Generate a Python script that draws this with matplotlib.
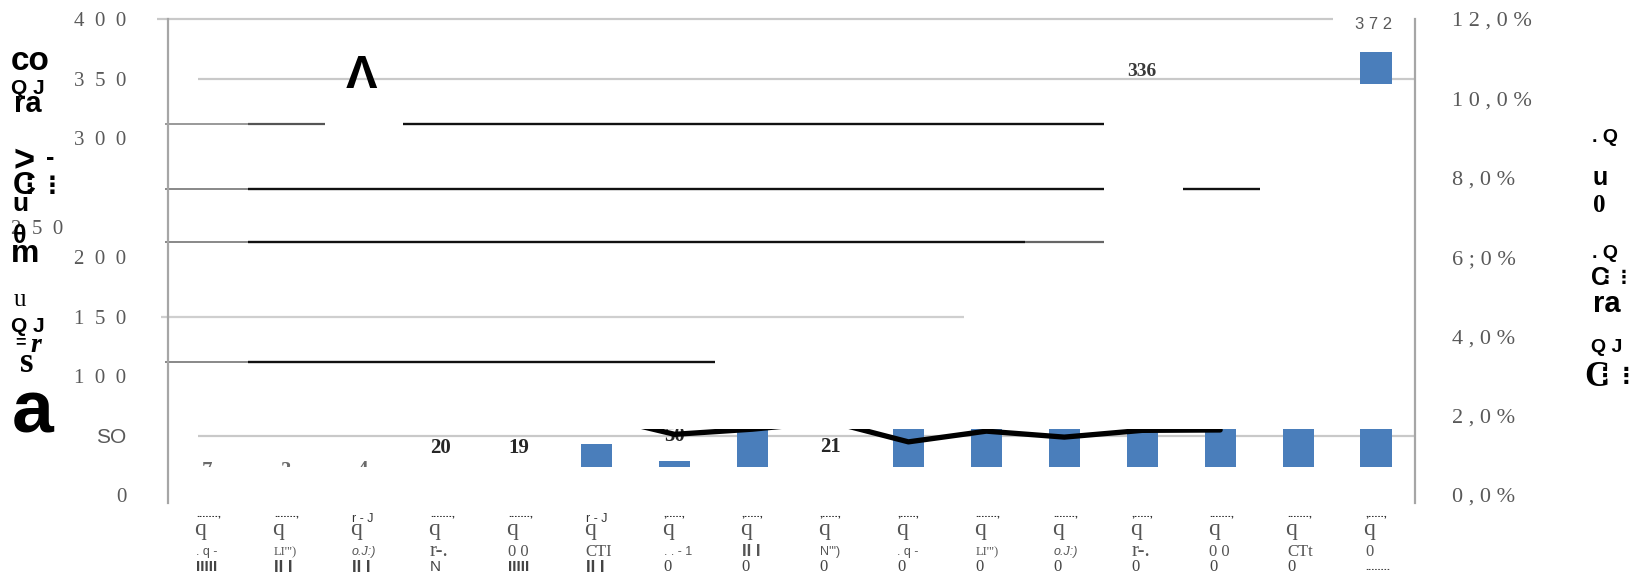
import matplotlib
matplotlib.use('Agg')
import matplotlib.pyplot as plt
import matplotlib.transforms as mtransforms
from matplotlib.patches import Rectangle
from matplotlib.path import Path

W, H = 1648, 577

# values
bar_values = [7, 3, 4, 20, 19, 43, 29, 85, 21, 95, 110, 125, 336, 140, 160, 372]
bar_labels = ['7', '3', '4', '20', '19', '', '50', '', '21', '', '', '', '336', '', '', '3 7 2']
line_idx = [5, 6, 7, 8, 9, 10, 11, 12, 13]
line_pct = [2.0, 1.53, 1.66, 1.85, 1.34, 1.61, 1.46, 1.63, 1.64]

left_ticks = [0, 50, 100, 150, 200, 300, 350, 400]
left_labels = ['0', 'SO', '1  0  0', '1  5  0', '2  0  0', '3  0  0', '3  5  0', '4  0  0']
right_ticks = [0, 2, 4, 6, 8, 10, 12]
right_labels = ['0 , 0 %', '2 , 0 %', '4 , 0 %', '6 ; 0 %', '8 , 0 %', '1 0 , 0 %', '1 2 , 0 %']

tick_top = ['.......,', '.......,', 'r - J', '.......,', '.......,', 'r - J', ',.....,', ',.....,',
            ',.....,', ',.....,', '.......,', '.......,', ',.....,', '.......,', '.......,', ',.....,']
tick_mid = ['q'] * 16
tick_low = ['. q -', 'LI\'")', 'o.J:)', 'r-.', '0 0', 'CTI', '. . - 1', 'II I',
            'N\'")', '. q -', 'LI\'")', 'o.J:)', 'r-.', '0 0', 'CTt', '0']
tick_last = ['IIIII', 'II I', 'II I', 'N', 'IIIII', 'II I', '0', '0',
             '0', '0', '0', '0', '0', '0', '0', '........']

SERIF = 'Liberation Serif'
SANS = 'Liberation Sans'


def xd(px):
    # pixel column -> category units
    return (px - 168.) / 77.94 - 0.5


def rect_verts(x0, y0, w, h):
    return [(x0, y0), (x0 + w, y0), (x0 + w, y0 + h), (x0, y0 + h), (x0, y0)]


fig = plt.figure(figsize=(W / 100., H / 100.), dpi=100)
ax = fig.add_axes([168. / W, 1 - 503. / H, (1415. - 168.) / W, (503. - 19.) / H])
ax2 = ax.twinx()
n = len(bar_values)
x = list(range(n))
ax.set_xlim(-0.5, n - 0.5)
ax.set_ylim(-6.7, 400)
ax2.set_ylim(-6.7 * 0.03, 12)

for s in ['top', 'bottom', 'right']:
    ax.spines[s].set_visible(False)
for s in ['top', 'bottom', 'left']:
    ax2.spines[s].set_visible(False)
ax.spines['left'].set_color('#a6a6a6')
ax.spines['left'].set_linewidth(1.6)
ax2.spines['right'].set_color('#a6a6a6')
ax2.spines['right'].set_linewidth(1.6)

ax.set_xticks([])
ax.set_yticks(left_ticks)
ax.set_yticklabels(left_labels, fontfamily=SERIF, fontsize=15, color='#595959')
ax.tick_params(axis='y', length=0, pad=30)
ax.get_yticklabels()[1].set_fontfamily(SANS)
ax2.set_yticks(right_ticks)
ax2.set_yticklabels(right_labels, fontfamily=SERIF, fontsize=16, color='#595959')
ax2.tick_params(axis='y', length=0, pad=27)

# broken grid lines
grid = [
    (400, xd(157), xd(1333), '#c9c9c9', 1.6),
    (349.6, xd(198), 15.5, '#c9c9c9', 1.6),
    (311.8, xd(165), xd(248), '#999999', 1.4),
    (311.8, xd(248), xd(325), '#555555', 1.6),
    (311.8, xd(403), xd(1104), '#111111', 1.7),
    (257.1, xd(165), xd(248), '#888888', 1.4),
    (257.1, xd(248), xd(1104), '#111111', 1.7),
    (257.1, xd(1183), xd(1260), '#111111', 1.7),
    (212.6, xd(165), xd(248), '#888888', 1.4),
    (212.6, xd(248), xd(1025), '#111111', 1.7),
    (212.6, xd(1025), xd(1104), '#666666', 1.6),
    (149.6, xd(161), xd(964), '#cfcfcf', 1.6),
    (111.8, xd(165), xd(248), '#888888', 1.4),
    (111.8, xd(248), xd(715), '#111111', 1.7),
    (49.6, xd(198), 15.5, '#c9c9c9', 1.6),
]
for yv, x0, x1, col, lw in grid:
    ax.hlines(yv, x0, x1, colors=col, lw=lw, clip_on=False, zorder=1)

# only two horizontal bands of the plot survive in the picture
band = Rectangle((-0.5, 23.5), n, 32.0, transform=ax.transData)
verts = rect_verts(-0.5, 23.5, n, 32.0) + rect_verts(-0.5, 345, n, 55)
codes = [Path.MOVETO, Path.LINETO, Path.LINETO, Path.LINETO, Path.CLOSEPOLY] * 2
bands = Path(verts, codes)

bars = ax.bar(x, bar_values, width=0.4, color='#4a7ebb', zorder=2)
for b in bars:
    b.set_clip_path(bands, ax.transData)

ln, = ax2.plot(line_idx, line_pct, color='black', lw=3.8,
               solid_capstyle='round', solid_joinstyle='round', zorder=3)
ln.set_clip_path(band)

# data labels, where the picture shows them
label_y = {0: 20.5, 1: 20.5, 2: 21.0, 3: 39.5, 4: 39.5, 6: 50.0, 8: 40.3, 12: 355.5, 15: 395}
for i, t in enumerate(bar_labels):
    if not t:
        continue
    if i == 15:
        ax.text(i - 0.03, label_y[i], t, ha='center', va='center', fontsize=12,
                family=SANS, color='#595959')
    elif i == 12:
        ax.text(i, label_y[i], t, ha='center', va='center', fontsize=14,
                family=SERIF, fontweight='bold', color='#3a3a3a')
    else:
        tx = ax.text(i, label_y[i], t, ha='center', va='center', fontsize=15,
                     family=SERIF, fontweight='bold', color='#262626',
                     clip_on=True, zorder=4)
        if i in (0, 1, 2, 6):
            tx.set_clip_path(band)
            if i < 3:
                tx.set_color('#6a6a6a')

ax.text(xd(361), 352, 'Λ', ha='center', va='center', fontsize=34,
        family=SANS, fontweight='bold', color='black')

# multi-row category labels
tr = mtransforms.blended_transform_factory(ax.transData, fig.transFigure)
low_style = {
    '. q -': dict(family=SANS, size=9),
    'LI\'")': dict(family=SERIF, size=9),
    'o.J:)': dict(family=SANS, size=9, style='italic'),
    'r-.': dict(family=SERIF, size=15),
    '0 0': dict(family=SERIF, size=12),
    'CTI': dict(family=SERIF, size=12),
    'CTt': dict(family=SERIF, size=12),
    '. . - 1': dict(family=SANS, size=9),
    'II I': dict(family=SANS, size=12, weight='bold'),
    'N\'")': dict(family=SANS, size=9),
    '0': dict(family=SERIF, size=12),
}
last_style = {
    'IIIII': dict(family=SANS, size=11, weight='bold'),
    'II I': dict(family=SANS, size=12, weight='bold'),
    'N': dict(family=SANS, size=11),
    '0': dict(family=SERIF, size=12),
    '........': dict(family=SANS, size=8, weight='bold'),
}
for i in range(n):
    x0 = i - 0.14
    top = tick_top[i]
    if top.startswith('r'):
        ax.text(x0, 1 - 519. / H, top, transform=tr, ha='left', va='center',
                family=SANS, fontsize=9, color='#333333')
    else:
        ax.text(x0, 1 - 513. / H, top, transform=tr, ha='left', va='center',
                family=SANS, fontsize=8, fontweight='bold', color='#333333')
    ax.text(x0 - 0.02, 1 - 535. / H, tick_mid[i], transform=tr, ha='left', va='baseline',
            family=SERIF, fontsize=17, color='#555555')
    ax.text(x0, 1 - 552. / H, tick_low[i], transform=tr, ha='left', va='center',
            color='#555555', **low_style[tick_low[i]])
    ax.text(x0, 1 - 567. / H, tick_last[i], transform=tr, ha='left', va='center',
            color='#444444', **last_style[tick_last[i]])


def ftext(s, xp, yp, size, **kw):
    fig.text(xp / W, 1 - yp / H, s, ha='center', va='center', fontsize=size, **kw)


# garbled axis titles
ftext('2  5  0', 37, 230, 15, family=SERIF, color='#595959')
left_title = [
    ('co', 30, 62, 24, SANS, 'bold', 'normal'),
    ('Q J', 28, 88, 15, SANS, 'bold', 'normal'),
    ('ra', 28, 104, 21, SANS, 'bold', 'normal'),
    ('>', 24, 162, 26, SANS, 'bold', 'normal'),
    ('-', 50, 158, 18, SANS, 'bold', 'normal'),
    ('C', 24, 186, 23, SANS, 'bold', 'normal'),
    ('⋮⋮', 41, 186, 17, 'DejaVu Sans', 'bold', 'normal'),
    ('u', 20, 204, 19, SANS, 'bold', 'normal'),
    ('θ', 20, 236, 18, SANS, 'bold', 'normal'),
    ('m', 25, 254, 23, SANS, 'bold', 'normal'),
    ('u', 20, 300, 18, SERIF, 'normal', 'normal'),
    ('Q J', 28, 326, 15, SANS, 'bold', 'normal'),
    ('=', 20, 343, 13, SANS, 'bold', 'normal'),
    ('r', 36, 345, 20, SERIF, 'bold', 'italic'),
    ('s', 27, 364, 25, SERIF, 'bold', 'normal'),
    ('a', 33, 413, 54, SANS, 'bold', 'normal'),
]
right_title = [
    ('. Q', 1605, 138, 14, SANS, 'bold', 'normal'),
    ('u', 1600, 178, 18, SANS, 'bold', 'normal'),
    ('0', 1599, 205, 18, SERIF, 'bold', 'normal'),
    ('. Q', 1605, 253, 14, SANS, 'bold', 'normal'),
    ('C', 1600, 278, 18, SANS, 'bold', 'normal'),
    ('⋮⋮', 1616, 278, 13, 'DejaVu Sans', 'bold', 'normal'),
    ('ra', 1607, 304, 21, SANS, 'bold', 'normal'),
    ('Q J', 1607, 347, 14, SANS, 'bold', 'normal'),
    ('C', 1597, 377, 25, SERIF, 'bold', 'normal'),
    ('⋮⋮', 1616, 377, 16, 'DejaVu Sans', 'bold', 'normal'),
]
for s, xp, yp, size, fam, wt, st in left_title + right_title:
    ftext(s, xp, yp, size, family=fam, fontweight=wt, fontstyle=st, color='black')

plt.savefig('out.png', dpi=100)
